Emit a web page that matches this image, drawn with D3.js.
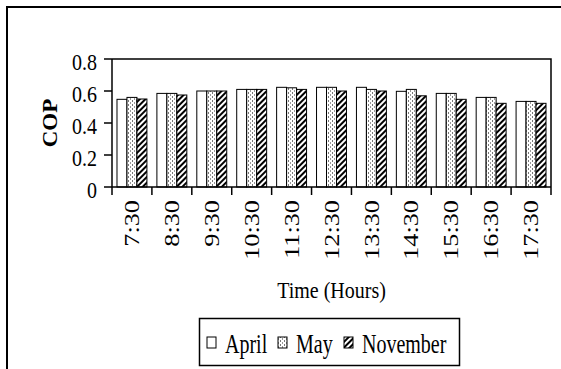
<!DOCTYPE html>
<html><head><meta charset="utf-8">
<script src="https://cdn.jsdelivr.net/npm/d3@7"></script>
<style>
html,body{margin:0;padding:0;background:#fff;}
svg{display:block;}
text{font-family:"Liberation Serif","Times New Roman",serif;fill:#000;}
</style></head>
<body>
<svg id="chart" width="561" height="369"></svg>
<script>
const categories = ["7:30","8:30","9:30","10:30","11:30","12:30","13:30","14:30","15:30","16:30","17:30"];
const seriesNames = ["April","May","November"];
const april    = [0.548,0.585,0.600,0.610,0.623,0.623,0.623,0.598,0.585,0.560,0.535];
const may      = [0.560,0.585,0.600,0.610,0.620,0.623,0.610,0.610,0.585,0.560,0.535];
const november = [0.550,0.575,0.600,0.610,0.610,0.600,0.600,0.570,0.548,0.523,0.523];
const yTicks = [0,0.2,0.4,0.6,0.8];
const yTickLabels = ["0","0.2","0.4","0.6","0.8"];
const xTitle = "Time (Hours)";
const yTitle = "COP";

(function(){
const seriesValues = [april, may, november];
const svg = d3.select("#chart");
const defs = svg.append("defs");

const pMay = defs.append("pattern").attr("id","pMay").attr("patternUnits","userSpaceOnUse")
  .attr("width",4).attr("height",4);
pMay.append("rect").attr("width",4).attr("height",4).attr("fill","#fff");
pMay.append("rect").attr("x",0).attr("y",0).attr("width",1).attr("height",2).attr("fill","#777");
pMay.append("rect").attr("x",2).attr("y",2).attr("width",1).attr("height",2).attr("fill","#999");
const pNov = defs.append("pattern").attr("id","pNov").attr("patternUnits","userSpaceOnUse")
  .attr("width",4).attr("height",4).attr("patternTransform","rotate(45)");
pNov.append("rect").attr("width",4).attr("height",4).attr("fill","#fff");
pNov.append("rect").attr("x",0).attr("y",0).attr("width",2).attr("height",4).attr("fill","#000");

const fills = ["#fff","url(#pMay)","url(#pNov)"];

svg.append("path").attr("d","M7,369 L7,7 L561,7").attr("fill","none").attr("stroke","#000").attr("stroke-width",2);

const pl = 112, pr = 551, pt = 59, pb = 187;
const x0 = d3.scaleBand().domain(categories).range([pl,pr]).padding(0);
const x1 = d3.scaleBand().domain(seriesNames).range([0,x0.bandwidth()]).paddingInner(0).paddingOuter(0.5);
const y = d3.scaleLinear().domain([0,0.8]).range([pb,pt]);

const g = svg.append("g");
categories.forEach((c,i)=>{
  seriesNames.forEach((s,j)=>{
    const v = seriesValues[j][i];
    g.append("rect")
      .attr("x", x0(c)+x1(s))
      .attr("y", y(v))
      .attr("width", x1.bandwidth())
      .attr("height", y(0)-y(v))
      .attr("fill", fills[j])
      .attr("stroke","#000").attr("stroke-width",1);
  });
});

svg.append("path").attr("d",`M${pl},${pt} L${pr},${pt} L${pr},${pb}`)
  .attr("fill","none").attr("stroke","#000").attr("stroke-width",1.5);

const yAxis = svg.append("g");
yAxis.append("line").attr("x1",pl).attr("x2",pl).attr("y1",pt).attr("y2",pb).attr("stroke","#000").attr("stroke-width",1.5);
yTicks.forEach((t,i)=>{
  yAxis.append("line").attr("x1",pl-8).attr("x2",pl).attr("y1",y(t)).attr("y2",y(t)).attr("stroke","#000").attr("stroke-width",1.5);
  yAxis.append("text").attr("transform",`translate(${pl-15},${y(t)+3}) scale(1,1.15)`)
    .attr("text-anchor","end").attr("dy","0.34em").attr("font-size",20).text(yTickLabels[i]);
});

const xAxis = svg.append("g");
xAxis.append("line").attr("x1",pl).attr("x2",pr).attr("y1",pb).attr("y2",pb).attr("stroke","#000").attr("stroke-width",1.5);
const bounds = categories.map(c=>x0(c)).concat([x0.range()[1]]);
bounds.forEach(b=>{
  xAxis.append("line").attr("x1",b).attr("x2",b).attr("y1",pb).attr("y2",pb+8).attr("stroke","#000").attr("stroke-width",1.5);
});
categories.forEach(c=>{
  const cx = x0(c)+x0.bandwidth()/2;
  xAxis.append("text").attr("transform",`translate(${cx},${pb+13}) scale(1,1.25) rotate(-90)`)
    .attr("text-anchor","end").attr("dy","0.34em").attr("font-size",21).text(c);
});

svg.append("text").attr("transform",`translate(${(pl+pr)/2},298) scale(1,1.18)`)
  .attr("text-anchor","middle").attr("font-size",20).text(xTitle);
svg.append("text").attr("transform",`translate(57,123) scale(1,1.15) rotate(-90)`)
  .attr("text-anchor","middle").attr("font-size",20).attr("font-weight","bold").text(yTitle);

const lg = svg.append("g");
lg.append("rect").attr("x",199.5).attr("y",318.5).attr("width",260).attr("height",47)
  .attr("fill","#fff").attr("stroke","#000").attr("stroke-width",1.5);
const legX = [207,278,344];
seriesNames.forEach((s,j)=>{
  lg.append("rect").attr("x",legX[j]).attr("y",337).attr("width",9).attr("height",11)
    .attr("fill",fills[j]).attr("stroke","#000").attr("stroke-width",1);
  lg.append("text").attr("transform",`translate(${legX[j]+18},353) scale(1,1.4)`)
    .attr("font-size",20).text(s);
});
})();
</script>
</body></html>
